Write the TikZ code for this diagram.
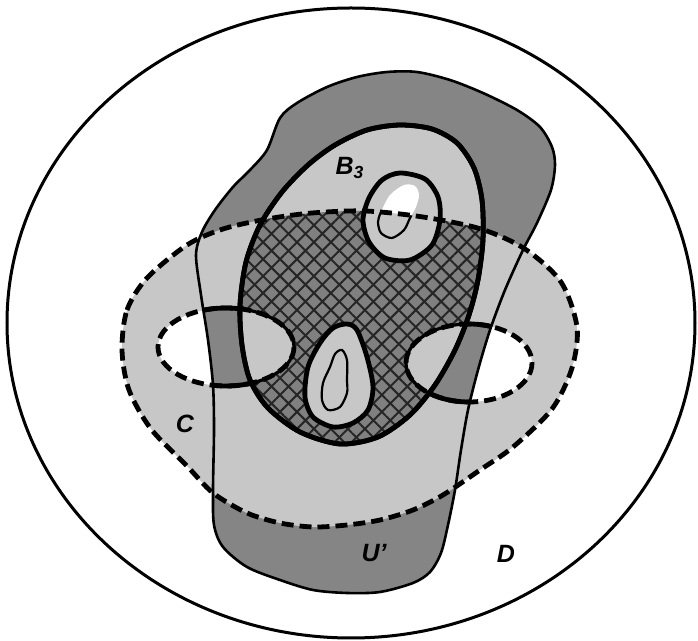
\documentclass[tikz,border=0pt]{standalone}
\usepackage{fontspec}
\setsansfont{Liberation Sans}
\usetikzlibrary{patterns.meta}

\definecolor{dotdark}{gray}{0.52}
\definecolor{dotlight}{gray}{0.78}
\definecolor{hatchbase}{gray}{0.50}

% region outlines (figure pixels, y downwards)
\newcommand{\pathUprime}{plot[smooth cycle] coordinates {
  (387,72) (417,72) (450,80) (483,93) (517,110) (540,127) (552,147)
  (555,165) (551,190) (537,223) (523,250) (505,290) (490,330)
  (478,370) (468,410) (461,450) (455,490) (448,525) (441,553)
  (430,572) (413,583) (380,592) (347,593) (313,590) (280,580)
  (247,567) (223,547) (214,525) (213,490) (214,430) (213,385)
  (208,340) (201,295) (196,255) (202,232) (215,210) (233,187)
  (250,170) (267,150) (280,118) (297,103) (327,87) (357,77)}}
\newcommand{\pathOval}{plot[smooth cycle] coordinates {
  (400,125) (432,129) (457,143) (474,168) (482,200) (483,240)
  (478,280) (469,315) (455,350) (435,385) (410,415) (378,437)
  (340,444) (300,432) (268,408) (250,380) (242,345) (240,305)
  (246,262) (260,225) (282,192) (308,165) (335,145) (367,130)}}
\newcommand{\pathCbig}{plot[smooth cycle] coordinates {
  (122,350) (127,310) (147,278) (187,245) (223,229) (267,219)
  (312,213) (365,211) (423,217) (481,229) (525,249) (561,282)
  (577,327) (572,368) (552,409) (513,447) (480,470) (443,495)
  (413,510) (380,520) (347,525) (313,527) (280,523) (247,513)
  (213,493) (187,466) (151,429) (129,390)}}
\newcommand{\pathCleft}{(226,347) ellipse [x radius=68, y radius=39]}
\newcommand{\pathCright}{(469,363) ellipse [x radius=63, y radius=39]}
\newcommand{\pathHoleTop}{plot[smooth cycle] coordinates {
  (400,173) (425,179) (438,197) (440,220) (432,245) (410,260)
  (385,258) (369,242) (363,220) (369,198) (382,180)}}
\newcommand{\pathHoleBot}{plot[smooth cycle] coordinates {
  (347,324) (357,330) (367,357) (373,387) (368,410) (353,423)
  (333,427) (313,417) (305,397) (308,367) (320,343) (333,328)}}
\newcommand{\pathSpotTop}{plot[smooth cycle] coordinates {
  (381,212) (390,195) (404,185) (415,186) (419,195) (416,207)
  (410,218) (404,230) (392,238) (381,233) (378,222)}}
\newcommand{\pathSpotBot}{plot[smooth cycle] coordinates {
  (342,350) (347,360) (347,380) (347,393) (340,407) (328,410)
  (322,400) (323,383) (330,367) (335,354)}}

\begin{document}
\begin{tikzpicture}[x=0.5pt,y=-0.5pt,
  rim/.style={line width=1.5pt},
  blobline/.style={line width=1.3pt},
  thickloop/.style={line width=2.4pt},
  midloop/.style={line width=1.6pt},
  thinloop/.style={line width=1.1pt},
  dashline/.style={line width=2.4pt,dash pattern=on 6pt off 3pt},
  hatched/.style={pattern={Hatch[angle=45,distance=6pt,line width=1pt]},
    pattern color=black!85},
  lbl/.style={font=\sffamily\bfseries\itshape\fontsize{12.5}{14}\selectfont}
]
  \useasboundingbox (0,0) rectangle (698,641);
  \fill[white] (0,0) rectangle (698,641);

  % shading of the regions
  \fill[dotdark] \pathUprime;
  \fill[dotlight,even odd rule] \pathCbig \pathCleft \pathCright;
  \fill[dotlight] \pathOval;
  \begin{scope}
    \clip \pathOval;
    \fill[hatchbase,even odd rule] \pathCbig \pathCleft \pathCright;
    \fill[hatched,even odd rule] \pathCbig \pathCleft \pathCright;
  \end{scope}
  \fill[dotlight] \pathHoleTop;
  \fill[dotlight] \pathHoleBot;
  \fill[white] \pathSpotTop;
  \begin{scope}
    \clip \pathSpotTop;
    \fill[dotlight] \pathCbig;
  \end{scope}

  % outlines
  \draw[blobline] \pathUprime;
  \draw[thickloop] \pathOval;
  \draw[thickloop] \pathHoleTop;
  \draw[thickloop] \pathHoleBot;
  \draw[thinloop] \pathSpotBot;
  \begin{scope}
    \clip \pathCbig;
    \draw[thinloop] \pathSpotTop;
  \end{scope}
  \draw[dashline] \pathCbig;
  \draw[dashline] \pathCleft;
  \draw[dashline] \pathCright;
  \begin{scope}[even odd rule]
    \clip \pathUprime \pathOval;
    \draw[thickloop] \pathCleft;
    \draw[thickloop] \pathCright;
  \end{scope}
  \begin{scope}
    \clip \pathOval;
    \draw[midloop] \pathCleft;
    \draw[midloop] \pathCright;
  \end{scope}
  \draw[thickloop] \pathOval;
  \draw[rim] (351,323) ellipse [x radius=344, y radius=315];

  % labels
  \node[lbl] (bthree) at (350,168) {B\textsubscript{3}};
  \node[lbl] (cset) at (185,424) {C};
  \node[lbl] (uprime) at (374,553) {U'};
  \node[lbl] (dset) at (506,554) {D};
\end{tikzpicture}
\end{document}
